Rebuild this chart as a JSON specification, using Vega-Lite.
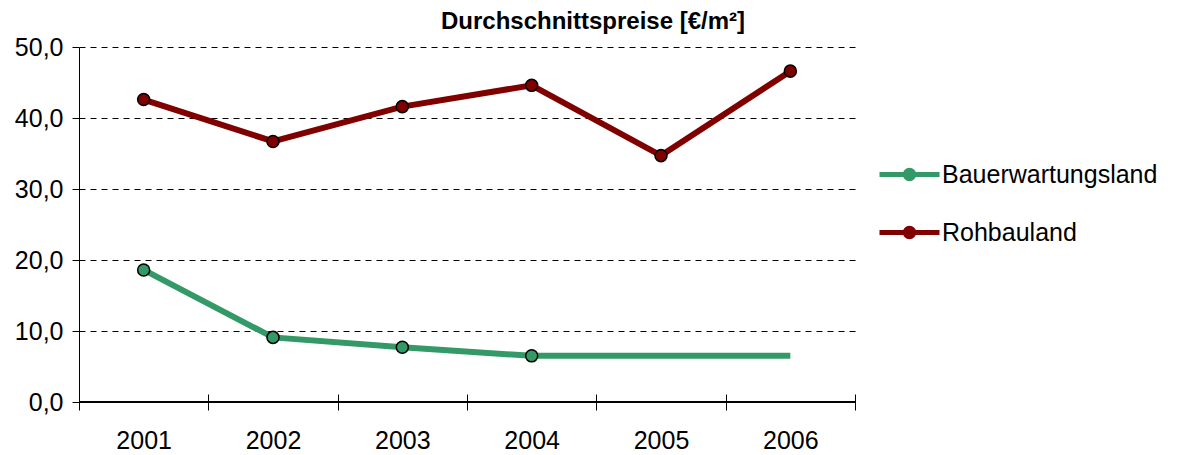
{
  "$schema": "https://vega.github.io/schema/vega-lite/v6.json",
  "width": 776,
  "height": 355,
  "autosize": {"type": "none"},
  "padding": {"left": 79, "top": 47, "right": 323, "bottom": 53},
  "background": "white",
  "title": {
    "text": "Durchschnittspreise [€/m²]",
    "anchor": "middle",
    "frame": "group",
    "dx": 126,
    "offset": 1,
    "fontSize": 24,
    "fontWeight": "bold",
    "font": "Liberation Sans",
    "color": "black"
  },
  "data": {
    "values": [
      {"year": "2001", "series": "Bauerwartungsland", "value": 18.6},
      {"year": "2002", "series": "Bauerwartungsland", "value": 9.1},
      {"year": "2003", "series": "Bauerwartungsland", "value": 7.7},
      {"year": "2004", "series": "Bauerwartungsland", "value": 6.5},
      {"year": "2005", "series": "Bauerwartungsland", "value": 6.5},
      {"year": "2006", "series": "Bauerwartungsland", "value": 6.5},
      {"year": "2001", "series": "Rohbauland", "value": 42.6},
      {"year": "2002", "series": "Rohbauland", "value": 36.7},
      {"year": "2003", "series": "Rohbauland", "value": 41.6},
      {"year": "2004", "series": "Rohbauland", "value": 44.6},
      {"year": "2005", "series": "Rohbauland", "value": 34.7},
      {"year": "2006", "series": "Rohbauland", "value": 46.6}
    ]
  },
  "encoding": {
    "x": {
      "field": "year",
      "type": "ordinal",
      "scale": {"paddingInner": 0, "paddingOuter": 0},
      "axis": {
        "title": null,
        "labelAngle": 0,
        "tickBand": "extent",
        "domain": false,
        "offset": -8,
        "tickSize": 16,
        "tickColor": "black",
        "tickWidth": 1,
        "labelPadding": 18,
        "labelFontSize": 25,
        "labelFont": "Liberation Sans",
        "labelColor": "black",
        "grid": false
      }
    },
    "y": {
      "field": "value",
      "type": "quantitative",
      "scale": {"domain": [0, 50], "nice": false},
      "axis": {
        "title": null,
        "values": [0, 10, 20, 30, 40, 50],
        "format": ".1f",
        "tickSize": 7,
        "tickColor": "black",
        "domainColor": "black",
        "domainWidth": 1,
        "labelPadding": 9,
        "labelFontSize": 25,
        "labelFont": "Liberation Sans",
        "labelColor": "black",
        "grid": true,
        "gridColor": "black",
        "gridDash": [6, 5],
        "gridWidth": 1
      }
    }
  },
  "layer": [
    {
      "mark": {"type": "rule", "color": "black", "strokeWidth": 1},
      "encoding": {"y": {"datum": 0}, "x": null}
    },
    {
      "mark": {"type": "line", "strokeWidth": 6},
      "encoding": {
        "color": {
          "field": "series",
          "type": "nominal",
          "scale": {"domain": ["Bauerwartungsland", "Rohbauland"], "range": ["#339966", "#800000"]},
          "legend": {
            "title": null,
            "orient": "none",
            "direction": "vertical",
            "legendX": 803,
            "legendY": 100,
            "symbolType": "M-1.2,0L1.2,0M0.17,0A0.17,0.17 0 1,1 -0.17,0A0.17,0.17 0 1,1 0.17,0Z",
            "symbolSize": 2500,
            "symbolStrokeWidth": 5,
            "labelFontSize": 25,
            "labelFont": "Liberation Sans",
            "labelColor": "black",
            "labelLimit": 0,
            "labelOffset": 5,
            "rowPadding": 16,
            "encode": {
              "symbols": {
                "update": {
                  "stroke": {"scale": "color", "field": "value"},
                  "fill": {"scale": "color", "field": "value"},
                  "opacity": {"value": 1}
                }
              }
            }
          }
        }
      }
    },
    {
      "transform": [{"filter": "!(datum.series == 'Bauerwartungsland' && datum.year > '2004')"}],
      "mark": {"type": "point", "filled": true, "size": 145, "stroke": "black", "strokeWidth": 1.5, "opacity": 1},
      "encoding": {
        "fill": {"field": "series", "type": "nominal", "scale": {"domain": ["Bauerwartungsland", "Rohbauland"], "range": ["#339966", "#800000"]}, "legend": null}
      }
    }
  ],
  "config": {
    "view": {"stroke": null},
    "locale": {
      "number": {"decimal": ",", "thousands": ".", "grouping": [3], "currency": ["", " €"]}
    }
  }
}
